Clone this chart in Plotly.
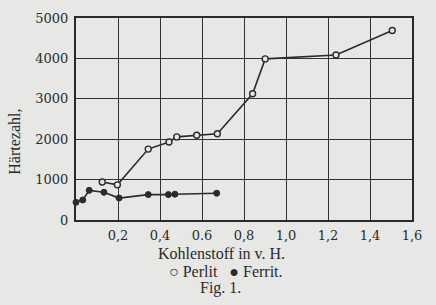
import plotly.graph_objects as go

# Data
perlit_c = [0.125, 0.197, 0.344, 0.443, 0.48, 0.575, 0.673, 0.841, 0.901, 1.238, 1.506]
perlit_h = [940, 870, 1755, 1930, 2057, 2098, 2136, 3126, 3988, 4083, 4689]

ferrit_c = [0.0, 0.032, 0.063, 0.133, 0.205, 0.344, 0.44, 0.471, 0.67]
ferrit_h = [438, 495, 734, 686, 543, 629, 629, 639, 663]

x_ticks = [0.2, 0.4, 0.6, 0.8, 1.0, 1.2, 1.4, 1.6]
x_labels = ["0,2", "0,4", "0.6", "0,8", "1,0", "1,2", "1,4", "1,6"]
y_ticks = [0, 1000, 2000, 3000, 4000, 5000]
y_labels = ["0", "1000", "2000", "3000", "4000", "5000"]

bg = "#e7e7e5"
ink = "#2b2b2b"
serif = "DejaVu Serif"
text_font = "Liberation Serif"

fig = go.Figure()
fig.add_trace(go.Scatter(
    x=ferrit_c, y=ferrit_h, mode="lines+markers",
    line=dict(color=ink, width=1.6),
    marker=dict(symbol="circle", size=6, color=ink, line=dict(color=ink, width=1)),
    cliponaxis=False, showlegend=False))
fig.add_trace(go.Scatter(
    x=perlit_c, y=perlit_h, mode="lines+markers",
    line=dict(color=ink, width=1.6),
    marker=dict(symbol="circle", size=6, color=bg, line=dict(color=ink, width=1.4)),
    cliponaxis=False, showlegend=False))

fig.update_layout(
    width=436, height=305,
    margin=dict(l=76, r=24, t=11, b=85),
    paper_bgcolor=bg, plot_bgcolor=bg,
    font=dict(family=serif, size=13, color=ink),
    xaxis=dict(range=[0, 1.6], tickvals=x_ticks, ticktext=x_labels,
               showgrid=True, gridcolor="#333333", gridwidth=1.4,
               showline=True, linecolor=ink, linewidth=2, mirror=True,
               zeroline=False, ticks="", ticklen=0, ticklabelstandoff=2,
               tickfont=dict(family=serif, size=13, color=ink)),
    yaxis=dict(range=[0, 5000], tickvals=y_ticks, ticktext=y_labels,
               showgrid=True, gridcolor="#333333", gridwidth=1.4,
               showline=True, linecolor=ink, linewidth=2, mirror=True,
               zeroline=False, ticks="", ticklen=0, ticklabelstandoff=3,
               tickfont=dict(family=serif, size=13, color=ink)),
    annotations=[
        dict(text="Härtezahl,", x=15, y=139,
             showarrow=False, textangle=-90,
             font=dict(family=text_font, size=16, color=ink)),
        dict(text="Kohlenstoff in v. H.", x=221, y=255,
             showarrow=False, font=dict(family=text_font, size=16, color=ink)),
        dict(text="○ Perlit   ● Ferrit.", x=226, y=273,
             showarrow=False, font=dict(family=text_font, size=16, color=ink)),
        dict(text="Fig. 1.", x=220, y=290,
             showarrow=False, font=dict(family=text_font, size=16, color=ink)),
    ],
)

# Convert annotation pixel positions into paper coordinates
W, H = 436, 305
l, r, t, b = 76, 24, 11, 85
pw, ph = W - l - r, H - t - b
for a in fig.layout.annotations:
    px, py = a.x, a.y
    a.x = (px - l) / pw
    a.y = (H - b - py) / ph
    a.xref = "paper"
    a.yref = "paper"
    a.xanchor = "center"
    a.yanchor = "middle"

fig.write_html("out.html")
